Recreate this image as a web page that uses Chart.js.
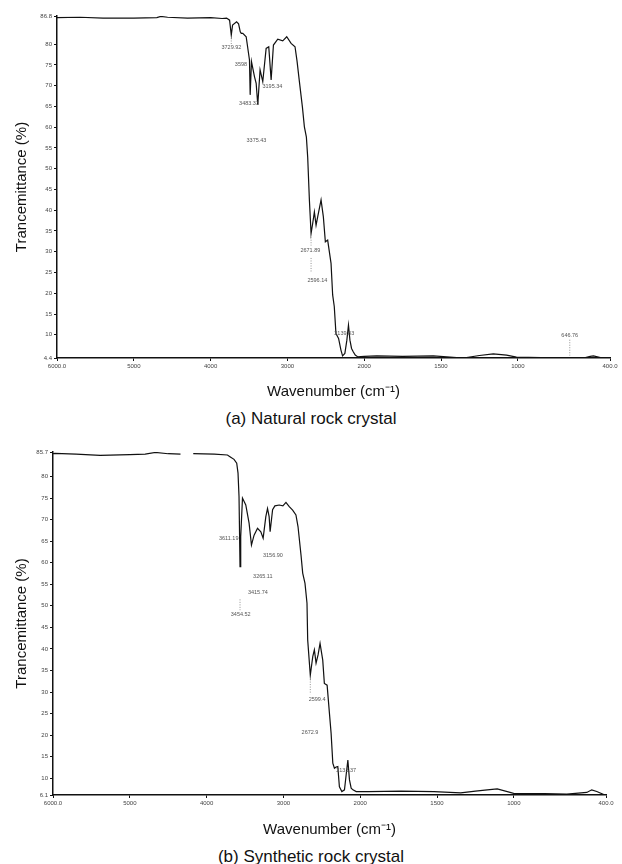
<!DOCTYPE html>
<html>
<head>
<meta charset="utf-8">
<script src="https://cdn.jsdelivr.net/npm/chart.js@4.4.1/dist/chart.umd.min.js"></script>
<style>
  body { margin: 0; background: #fff; }
  #page { position: relative; width: 622px; height: 864px; font-family: "Liberation Sans", Arial, sans-serif; }
  .box { position: absolute; left: 0; width: 622px; }
  .cap { position: absolute; left: 0; width: 622px; text-align: center; font-size: 17px; line-height: 20px; color: #111; }
</style>
</head>
<body>
<div id="page">
  <div class="box" style="top:0;height:405px"><canvas id="natChart"></canvas></div>
  <div class="cap" style="top:409px">(a) Natural rock crystal</div>
  <div class="box" style="top:436px;height:407px"><canvas id="synChart"></canvas></div>
  <div class="cap" style="top:847px">(b) Synthetic rock crystal</div>
</div>
<script>
// x axis: 6000 -> 2000 at one scale, 2000 -> 400 at double scale
const xTicks = [6000, 5000, 4000, 3000, 2000, 1500, 1000, 400];
const natYTicks = [4.4, 10, 15, 20, 25, 30, 35, 40, 45, 50, 55, 60, 65, 70, 75, 80, 86.8];
const synYTicks = [6.1, 10, 15, 20, 25, 30, 35, 40, 45, 50, 55, 60, 65, 70, 75, 80, 85.7];

// (a) natural rock crystal
const natWn = [6000, 5700, 5400, 5000, 4700, 4650, 4560, 4300, 4000, 3850, 3792, 3753, 3731, 3714, 3662, 3636,
  3614, 3601, 3581, 3537, 3494, 3485, 3468, 3429, 3407, 3386, 3356, 3321, 3277, 3243, 3212, 3182, 3126, 3061,
  3009, 2952, 2901, 2875, 2844, 2805, 2779, 2753, 2736, 2714, 2692, 2671, 2649, 2627, 2606, 2562, 2532, 2506,
  2476, 2432, 2411, 2390, 2368, 2334, 2303, 2282, 2252, 2226, 2205, 2186, 2165, 2143, 2117, 2087, 2000, 1918,
  1750, 1550, 1355, 1250, 1160, 1073, 1009, 850, 684, 560, 529, 508, 475, 420, 400];
const natT = [86.4, 86.5, 86.3, 86.3, 86.4, 86.7, 86.5, 86.3, 86.4, 86.2, 86.3, 85.8, 82.2, 84.6, 85.4, 84.9,
  83.0, 82.6, 82.6, 81.8, 76.2, 67.8, 75.8, 72.2, 70.6, 65.4, 73.8, 71.0, 79.0, 79.4, 71.4, 79.8, 81.2, 80.8,
  81.8, 80.2, 79.4, 76.0, 71.0, 64.9, 60.1, 57.6, 52.8, 42.5, 34.4, 36.8, 39.6, 36.4, 38.4, 42.5, 38.4, 32.4,
  32.8, 27.2, 19.6, 16.8, 10.3, 9.1, 6.3, 4.9, 5.5, 8.7, 12.3, 8.7, 6.7, 5.9, 5.1, 4.7, 4.8, 4.9,
  4.8, 4.9, 4.4, 5.0, 5.4, 5.1, 4.6, 4.5, 4.4, 4.5, 4.8, 4.9, 4.6, 4.1, 4.0];
const natPeakText = ["3729.92", "3598", "3483.33", "3195.34", "3375.43", "2671.89", "2596.14", "2139.83", "646.76"];
const natPeakWn = [3729, 3605, 3500, 3195, 3403, 2701, 2610, 2260, 662];
const natPeakT = [79.1, 75.0, 65.8, 69.7, 56.7, 30.4, 23.0, 10.2, 9.9];
// dotted leader lines: wavenumber, from %T, to %T
const natLeadWn = [3731, 2692, 2692, 662];
const natLeadFrom = [81.5, 33.5, 28.5, 8.8];
const natLeadTo = [80.0, 31.5, 25.0, 5.0];

// (b) synthetic rock crystal
const synWn = [6000, 5974, 5700, 5386, 5000, 4800, 4667, 4500, 4340, 4250, 4174, 3900, 3729, 3686, 3643, 3608,
  3591, 3578, 3565, 3556, 3533, 3490, 3447, 3416, 3382, 3337, 3294, 3264, 3229, 3207, 3186, 3173, 3141, 3111,
  3055, 3007, 2967, 2924, 2880, 2837, 2810, 2771, 2749, 2719, 2693, 2684, 2650, 2618, 2597, 2575, 2549, 2523,
  2488, 2467, 2431, 2401, 2379, 2357, 2336, 2314, 2292, 2271, 2239, 2205, 2183, 2161, 2140, 2118, 2095, 2052,
  1950, 1734, 1519, 1346, 1250, 1173, 1108, 1001, 800, 655, 525, 493, 460, 407, 400];
const synT = [85.3, 85.4, 85.2, 84.9, 85.1, 85.2, 85.6, 85.3, 85.2, null, 85.3, 85.2, 85.0, 84.5, 84.0, 83.1,
  80.8, 75.3, 59.1, 66.0, 75.0, 73.4, 69.2, 64.1, 66.4, 68.0, 67.2, 65.7, 70.7, 72.6, 70.7, 67.2, 72.3, 73.2,
  73.4, 73.2, 74.0, 73.0, 72.2, 71.1, 68.4, 61.8, 57.6, 55.2, 50.6, 42.1, 33.9, 38.2, 39.8, 36.7, 38.6, 41.3,
  37.4, 32.0, 31.6, 25.1, 20.4, 13.5, 12.3, 12.6, 12.7, 8.0, 6.9, 7.3, 10.8, 14.2, 9.6, 7.7, 7.3, 6.9,
  6.9, 7.0, 6.9, 6.6, 7.0, 7.3, 7.5, 6.5, 6.4, 6.3, 6.7, 7.3, 6.9, 6.1, 6.1];
const synPeakText = ["3611.19", "3156.90", "3265.11", "3415.74", "3454.52", "2599.4", "2672.9", "2133.37"];
const synPeakWn = [3712, 3137, 3268, 3333, 3556, 2562, 2654, 2183];
const synPeakT = [65.7, 61.8, 56.7, 53.2, 47.9, 28.2, 20.7, 11.9];
const synLeadWn = [3565, 2650];
const synLeadFrom = [51.5, 33.0];
const synLeadTo = [49.0, 29.5];

const BREAK = 2000;
const X_MAX = 6000;
const X_MIN = 400;
const unitsOf = (v) => v >= BREAK ? (X_MAX - v) / 1000 : (X_MAX - BREAK) / 1000 + (BREAK - v) / 500;
const TOTAL = unitsOf(X_MIN);

class SplitScale extends Chart.LinearScale {
  static id = "split";
  static defaults = {};
  buildTicks() {
    return xTicks.map((v) => ({ value: v }));
  }
  getPixelForValue(value) {
    if (value === null || value === undefined || isNaN(value)) return NaN;
    return this.getPixelForDecimal(unitsOf(value) / TOTAL);
  }
  getValueForPixel(pixel) {
    const u = this.getDecimalForPixel(pixel) * TOTAL;
    const bu = (X_MAX - BREAK) / 1000;
    return u <= bu ? X_MAX - u * 1000 : BREAK - (u - bu) * 500;
  }
}
Chart.register(SplitScale);

const FONT = "'Liberation Sans', Arial, sans-serif";

const peakPlugin = (texts, wns, ts, leadWn, leadFrom, leadTo) => ({
  id: "peakLabels",
  afterDatasetsDraw(chart) {
    const { ctx, scales } = chart;
    ctx.save();
    ctx.strokeStyle = "#777";
    ctx.lineWidth = 0.8;
    ctx.setLineDash([1, 1.5]);
    leadWn.forEach((w, i) => {
      const x = scales.x.getPixelForValue(w);
      ctx.beginPath();
      ctx.moveTo(x, scales.y.getPixelForValue(leadFrom[i]));
      ctx.lineTo(x, scales.y.getPixelForValue(leadTo[i]));
      ctx.stroke();
    });
    ctx.setLineDash([]);
    ctx.font = "5.5px " + FONT;
    ctx.fillStyle = "#555";
    ctx.textAlign = "center";
    ctx.textBaseline = "middle";
    texts.forEach((t, i) => {
      ctx.fillText(t, scales.x.getPixelForValue(wns[i]), scales.y.getPixelForValue(ts[i]));
    });
    ctx.restore();
  },
});

function makeChart(id, wn, t, yTicks, pad, yWidth, xHeight, peaks) {
  const pts = wn.map((w, i) => ({ x: w, y: t[i] }));
  return new Chart(document.getElementById(id), {
    type: "line",
    data: {
      datasets: [{
        data: pts,
        borderColor: "#111",
        borderWidth: 1.2,
        pointRadius: 0,
        tension: 0,
        spanGaps: false,
      }],
    },
    options: {
      responsive: true,
      maintainAspectRatio: false,
      animation: false,
      layout: { autoPadding: false, padding: pad },
      plugins: { legend: { display: false }, tooltip: { enabled: false } },
      scales: {
        x: {
          type: "split",
          min: X_MIN,
          max: X_MAX,
          afterFit: (s) => { s.height = xHeight; },
          border: { display: true, color: "#111", width: 1.5 },
          grid: { display: true, drawOnChartArea: false, drawTicks: true, tickLength: 3, color: "#111" },
          ticks: {
            autoSkip: false,
            maxRotation: 0,
            padding: 2,
            color: "#444",
            font: { family: FONT, size: 6 },
            callback: (v) => (v === X_MAX || v === X_MIN ? v.toFixed(1) : String(v)),
          },
          title: {
            display: true,
            text: "Wavenumber (cm\u207B\u00B9)",
            color: "#111",
            font: { family: FONT, size: 15 },
            padding: { top: 0, bottom: 4 },
          },
        },
        y: {
          min: yTicks[0],
          max: yTicks[yTicks.length - 1],
          afterFit: (s) => { s.width = yWidth; },
          afterBuildTicks: (s) => { s.ticks = yTicks.map((v) => ({ value: v })); },
          border: { display: true, color: "#111", width: 1.5 },
          grid: { display: true, drawOnChartArea: false, drawTicks: true, tickLength: 3, color: "#111" },
          ticks: {
            padding: 2,
            color: "#444",
            font: { family: FONT, size: 6 },
            callback: (v) => String(v),
          },
          title: {
            display: true,
            text: "Trancemittance (%)",
            color: "#111",
            font: { family: FONT, size: 15 },
            padding: { top: 13, bottom: 0 },
          },
        },
      },
    },
    plugins: [peakPlugin(...peaks)],
  });
}

makeChart("natChart", natWn, natT, natYTicks, { top: 16, left: 0, right: 12, bottom: 0 }, 57, 47,
  [natPeakText, natPeakWn, natPeakT, natLeadWn, natLeadFrom, natLeadTo]);
makeChart("synChart", synWn, synT, synYTicks, { top: 16, left: 0, right: 16, bottom: 0 }, 53, 48,
  [synPeakText, synPeakWn, synPeakT, synLeadWn, synLeadFrom, synLeadTo]);
</script>
</body>
</html>
